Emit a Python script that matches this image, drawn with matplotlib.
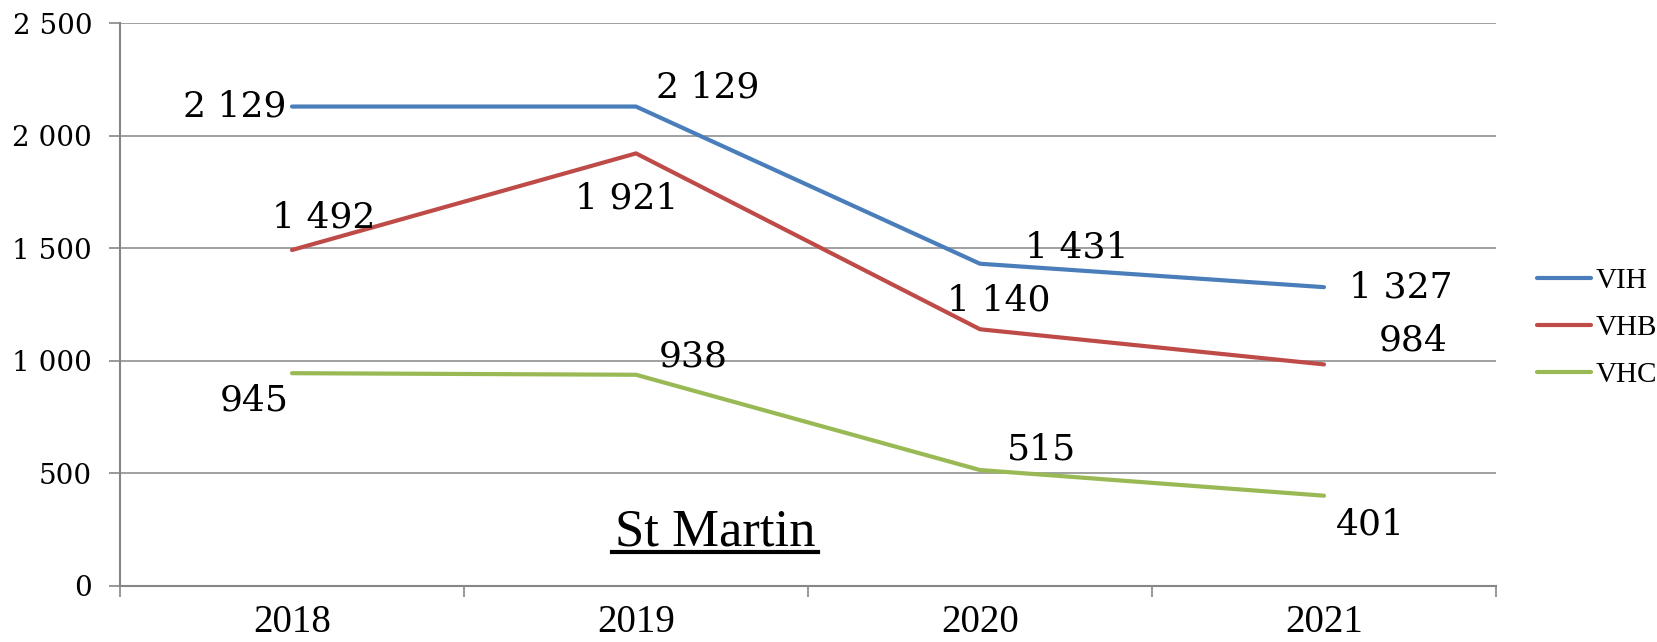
import matplotlib
matplotlib.use("Agg")
import matplotlib.pyplot as plt
from matplotlib.ticker import FuncFormatter, FixedLocator
from matplotlib.lines import Line2D

years = ["2018", "2019", "2020", "2021"]
series_names = ["VIH", "VHB", "VHC"]
vih = [2129, 2129, 1431, 1327]
vhb = [1492, 1921, 1140, 984]
vhc = [945, 938, 515, 401]
title = "St Martin"

colors = ["#4A7EBB", "#BE4B48", "#98B954"]
# label offsets in pixels (dx, dy) relative to each point (label centre)
offsets = [
    [(-57, 0), (72, 19), (97, 16), (77, 0)],
    [(32, 33), (-9, -45), (19, 29), (89, 24)],
    [(-38, -27), (57, 18), (61, 21), (46, -29)],
]

fig = plt.figure(figsize=(16.58, 6.42), dpi=100)
ax = fig.add_axes([120/1658, 1-586/642, 1376/1658, 563/642])

x = list(range(len(years)))
gray = "#868686"
for name, vals, c, offs in zip(series_names, [vih, vhb, vhc], colors, offsets):
    ax.plot(x, vals, color=c, lw=3.0, solid_capstyle='round', label=name, zorder=3)
    for xi, v, (dx, dy) in zip(x, vals, offs):
        lab = f"{v:,}".replace(",", " ")
        ax.annotate(lab, (xi, v), xytext=(dx, dy), textcoords='offset pixels',
                    ha='center', va='center', fontsize=26, family='DejaVu Serif',
                    color='black', zorder=4)

ax.set_xlim(-0.5, len(years) - 0.5)
ax.set_ylim(0, 2500)
ax.set_yticks([0, 500, 1000, 1500, 2000, 2500])
ax.yaxis.set_major_formatter(FuncFormatter(lambda v, p: f"{int(v):,}".replace(",", " ")))
ax.grid(axis='y', color=gray, lw=1.1)
ax.set_axisbelow(True)

ax.xaxis.set_major_locator(FixedLocator([i - 0.5 for i in range(len(years) + 1)]))
ax.xaxis.set_major_formatter(FuncFormatter(lambda v, p: ""))
ax.xaxis.set_minor_locator(FixedLocator(x))
ax.set_xticklabels(years, minor=True)
ax.tick_params(axis='x', which='major', length=8, width=1.2, color=gray, direction='out')
ax.tick_params(axis='x', which='minor', length=0, pad=13)
for t in ax.get_xticklabels(minor=True):
    t.set_fontfamily('Liberation Serif')
    t.set_fontsize(28)
ax.tick_params(axis='y', length=8, width=1.2, color=gray, direction='out', pad=12)
for t in ax.get_yticklabels():
    t.set_fontfamily('DejaVu Serif')
    t.set_fontsize(20)

for s in ['top', 'right']:
    ax.spines[s].set_visible(False)
for s in ['left', 'bottom']:
    ax.spines[s].set_color(gray)
    ax.spines[s].set_linewidth(1.5)

# title text with underline
ax.text(595/1376, (586-545)/563, title, transform=ax.transAxes, ha='center',
        va='baseline', fontsize=38, family='Liberation Serif', color='black')
fig.add_artist(Line2D([612/1658, 818/1658], [1-552/642, 1-552/642], color='black', lw=3))

handles = [Line2D([0], [0], color=c, lw=3.0, solid_capstyle='round') for c in colors]
fig.legend(handles, series_names, loc='center left', bbox_to_anchor=(1537/1658, 1-328/642),
           frameon=False, prop={'family': 'Liberation Serif', 'size': 21},
           handlelength=1.85, handletextpad=0.15, labelspacing=0.7, borderpad=0, borderaxespad=0)

fig.savefig("out.png", dpi=100)
